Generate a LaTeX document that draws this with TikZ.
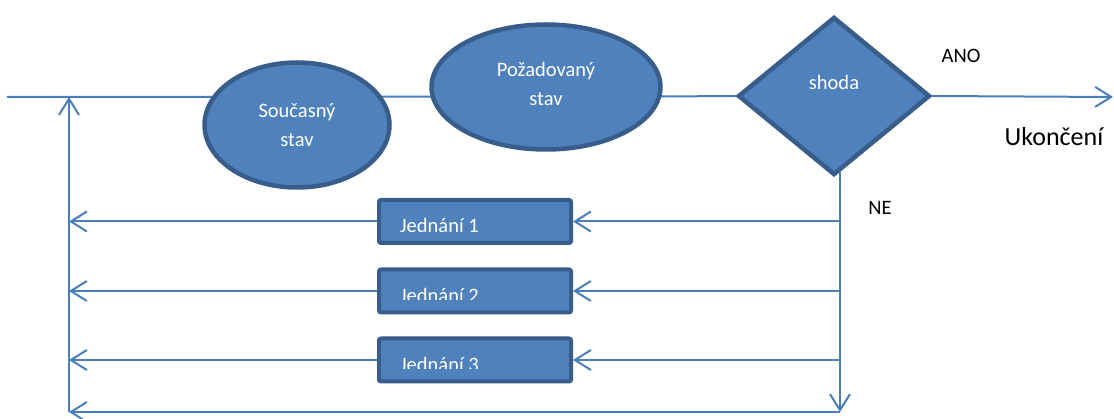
\documentclass[tikz,border=0pt]{standalone}
\usepackage{fontspec}
\setmainfont{Carlito}
\usetikzlibrary{shapes.geometric,arrows.meta,backgrounds}
\definecolor{fillblue}{HTML}{4F81BD}
\definecolor{edgeblue}{HTML}{385D8A}
\definecolor{lineblue}{HTML}{4A7EBB}
\tikzset{
  shapestyle/.style={fill=fillblue,draw=edgeblue,line width=4.5pt,inner sep=0pt},
  ell/.style={shapestyle,ellipse,text=white,align=center,font=\fontsize{20.5}{29}\selectfont},
  dia/.style={shapestyle,diamond},
  actbox/.style={fill=fillblue,draw=edgeblue,line width=4pt,rounded corners=2pt,minimum width=192pt,minimum height=43pt,inner sep=0pt},
  acttext/.style={text=white,anchor=base west,inner sep=0pt,font=\fontsize{20.5}{24}\selectfont},
  conn/.style={draw=lineblue,line width=2pt},
  arr/.style={conn,-{Straight Barb[length=16pt,width=20pt,line width=2pt]}},
  lbl/.style={text=black,inner sep=0pt,font=\fontsize{20.5}{24}\selectfont}
}
\begin{document}
\begin{tikzpicture}[x=1pt,y=-1pt]
\useasboundingbox (0,0) rectangle (1114,419);
% shapes
\node[ell,minimum width=185pt,minimum height=125pt] (e1) at (297,125) {Současný\\stav};
\node[ell,minimum width=229pt,minimum height=125pt] (e2) at (546,87) {Požadovaný\\stav\\[-23pt]\mbox{}};
\node[dia,minimum width=192pt,minimum height=158pt] (d) at (834,96) {};
\node[text=white,inner sep=0pt,font=\fontsize{20.5}{24}\selectfont] (dt) at (834,82) {shoda};
\node[actbox] (j1) at (475,221.5) {};
\node[actbox] (j2) at (475,291) {};
\node[actbox] (j3) at (475,360) {};
\begin{scope}
  \clip (379,200) rectangle (571,232);
  \node[acttext] (t1) at (400,233) {Jednání 1};
\end{scope}
\begin{scope}
  \clip (379,270) rectangle (571,300);
  \node[acttext] (t2) at (400,303) {Jednání 2};
\end{scope}
\begin{scope}
  \clip (379,339) rectangle (571,369);
  \node[acttext] (t3) at (400,372) {Jednání 3};
\end{scope}
% labels
\node[lbl] (ano) at (961,56) {ANO};
\node[lbl] (ne) at (880,208) {NE};
\node[lbl,font=\fontsize{26}{30}\selectfont] (uk) at (1054,137) {Ukončení};
% coordinates
\coordinate (start) at (7,97);
\coordinate (end) at (1113,97);
\coordinate (lt) at (69,97);
\coordinate (lb) at (69,412);
\coordinate (rb) at (840,412);
\coordinate (ds) at (840,172);
\coordinate (lv) at (69,0);
\coordinate (rv) at (840,0);
\begin{scope}[on background layer]
  \draw[conn] (start) -- (d.east);
\end{scope}
\draw[arr] (d.east) -- (end);
\draw[arr] (lb) -- (lt);
\draw[arr] (ds) -- (rb);
\draw[arr] (rb) -- (lb);
\foreach \b in {j1,j2,j3}{
  \draw[arr] (rv |- \b.east) -- (\b.east);
  \draw[arr] (\b.west) -- (lv |- \b.west);
}
\end{tikzpicture}
\end{document}
